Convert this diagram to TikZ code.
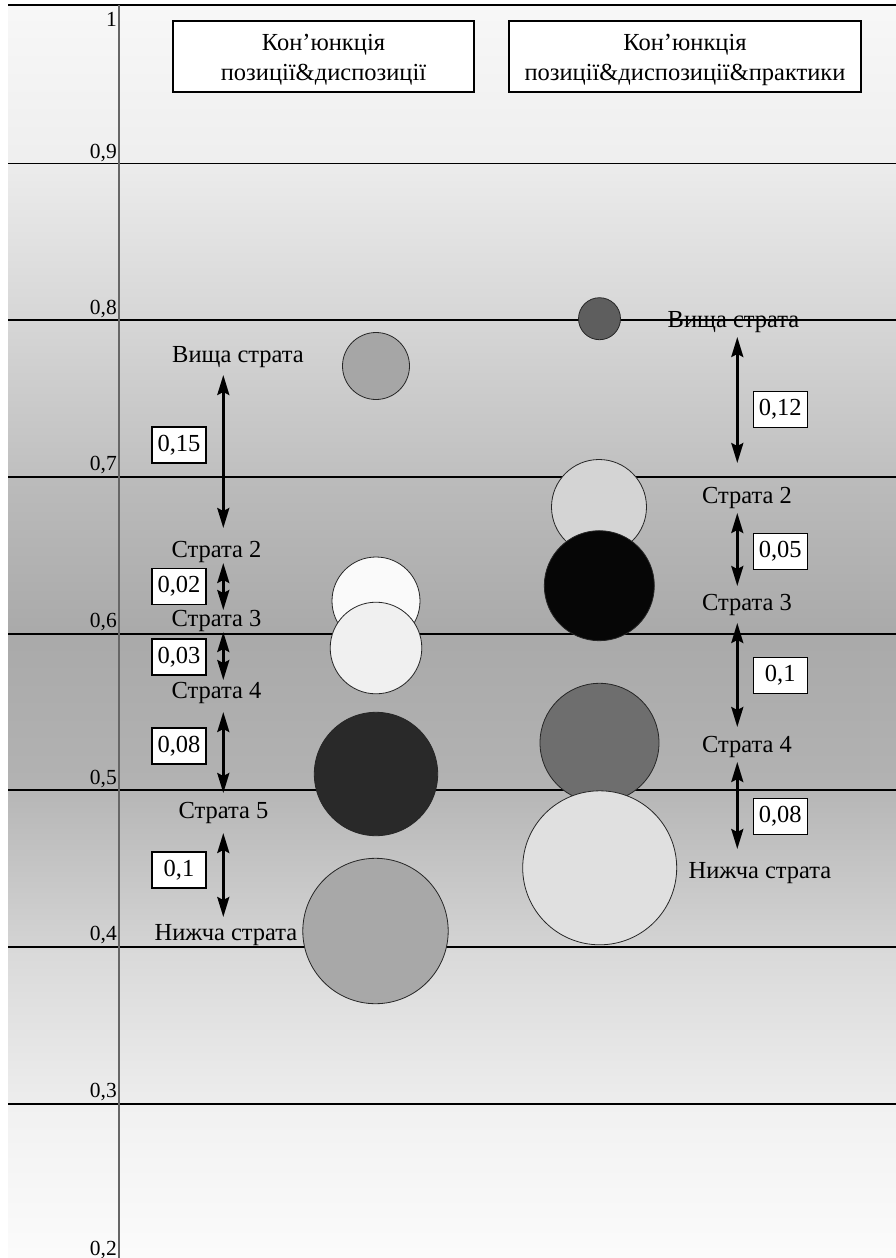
\documentclass[tikz,border=0pt]{standalone}
\usepackage{fontspec}
\setmainfont{Liberation Serif}
\usetikzlibrary{arrows.meta}
\begin{document}
\begin{tikzpicture}[x=1pt,y=-1pt,
  grid/.style={line width=1.1pt,black},
  axisline/.style={line width=1.4pt,black!60},
  ball/.style={circle,draw=black!85,line width=0.8pt,inner sep=0pt,minimum size=#1},
  lbl/.style={anchor=base,inner sep=0pt,font=\fontsize{24.5}{30}\selectfont},
  tick/.style={anchor=base east,inner sep=0pt,font=\fontsize{21.5}{25}\selectfont},
  numbox/.style={draw=black,fill=white,line width=1.2pt,minimum width=54pt,minimum height=36pt,inner sep=0pt,font=\fontsize{24.5}{30}\selectfont},
  hdr/.style={draw=black,fill=white,line width=1.4pt,minimum height=71pt,inner sep=0pt},
  htext/.style={inner sep=0pt,align=center,font=\fontsize{24.5}{30}\selectfont},
  dbl/.style={line width=2.6pt,{Stealth[length=20pt,width=12pt,inset=3pt]}-{Stealth[length=20pt,width=12pt,inset=3pt]}}
]
\useasboundingbox (0,0) rectangle (896,1258);
\fill[white] (0,0) rectangle (896,1258);
% background bands
\shade[top color={black!3},bottom color={black!6.5}] (8,5) rectangle (896,163.5);
\shade[top color={black!7.5},bottom color={black!16}] (8,163.5) rectangle (896,320);
\shade[top color={black!16},bottom color={black!25}] (8,320) rectangle (896,477);
\shade[top color={black!26.5},bottom color={black!33.5}] (8,477) rectangle (896,634);
\shade[top color={black!33.5},bottom color={black!30}] (8,634) rectangle (896,790);
\shade[top color={black!28.5},bottom color={black!17}] (8,790) rectangle (896,947);
\shade[top color={black!15},bottom color={black!7}] (8,947) rectangle (896,1104);
\shade[top color={black!5.5},bottom color={black!1.5}] (8,1104) rectangle (896,1258);
% grid lines
\draw[grid] (8,5) -- (896,5);
\foreach \yy in {163.5,320,477,634,790,947,1104}{\draw[grid] (8,\yy) -- (896,\yy);}
\draw[axisline] (119,5) -- (119,1258);
% tick labels
\node[tick] (t10) at (117,27) {1};
\node[tick] (t09) at (117,158) {0,9};
\node[tick] (t08) at (117,314) {0,8};
\node[tick] (t07) at (117,470) {0,7};
\node[tick] (t06) at (117,627) {0,6};
\node[tick] (t05) at (117,784) {0,5};
\node[tick] (t04) at (117,940) {0,4};
\node[tick] (t03) at (117,1097) {0,3};
\node[tick] (t02) at (117,1255) {0,2};
% headers
\node[hdr,minimum width=301pt] (h1) at (323.5,56.5) {};
\node[htext,yshift=-3pt] (h1t) at (h1.center) {Кон’юнкція\\позиції\&диспозиції};
\node[hdr,minimum width=352pt] (h2) at (685,56.5) {};
\node[htext,yshift=-3pt] (h2t) at (h2.center) {Кон’юнкція\\позиції\&диспозиції\&практики};
% left circles
\node[ball=67pt,fill=black!35] (cl1) at (376,366) {};
\node[ball=88pt,fill=black!2] (cl2) at (376,601) {};
\node[ball=91.6pt,fill=black!6] (cl3) at (376,648) {};
\node[ball=123.4pt,fill=black!84] (cl4) at (376,774) {};
\node[ball=145.4pt,fill=black!34] (cl5) at (375.5,931) {};
% right circles
\node[ball=42pt,fill=black!63] (cr1) at (599.5,318.7) {};
\node[ball=95pt,fill=black!17] (cr2) at (599,507) {};
\node[ball=110pt,fill=black!97.5] (cr3) at (599.3,585.7) {};
\node[ball=119pt,fill=black!57] (cr4) at (599.5,742.8) {};
\node[ball=154pt,fill=black!12] (cr5) at (599.7,867.8) {};
% left labels
\node[lbl] (ll1) at (238,362) {Вища страта};
\node[lbl] (ll2) at (216.5,557) {Страта 2};
\node[lbl] (ll3) at (216.5,626) {Страта 3};
\node[lbl] (ll4) at (216.5,698) {Страта 4};
\node[lbl] (ll5) at (223.5,818) {Страта 5};
\node[lbl] (ll6) at (226,940) {Нижча страта};
% right labels
\node[lbl] (rl1) at (733.5,327) {Вища страта};
\node[lbl] (rl2) at (747,503) {Страта 2};
\node[lbl] (rl3) at (747,610) {Страта 3};
\node[lbl] (rl4) at (747,752) {Страта 4};
\node[lbl] (rl5) at (760,878) {Нижча страта};
% arrow end points
\coordinate (la1) at (223.3,375); \coordinate (lb1) at (223.3,528);
\coordinate (la2) at (223.3,563); \coordinate (lb2) at (223.3,610);
\coordinate (la3) at (223.3,632); \coordinate (lb3) at (223.3,680);
\coordinate (la4) at (223.3,712); \coordinate (lb4) at (223.3,793);
\coordinate (la5) at (223.3,833); \coordinate (lb5) at (223.3,917);
\coordinate (ra1) at (737.3,337); \coordinate (rb1) at (737.3,463);
\coordinate (ra2) at (737.3,513); \coordinate (rb2) at (737.3,586);
\coordinate (ra3) at (737.3,623); \coordinate (rb3) at (737.3,727);
\coordinate (ra4) at (737.3,762); \coordinate (rb4) at (737.3,849);
\foreach \i in {1,...,5}{\draw[dbl] (la\i) -- (lb\i);}
\foreach \i in {1,...,4}{\draw[dbl] (ra\i) -- (rb\i);}
% value boxes
\node[numbox] (lv1) at (179,445) {0,15};
\node[numbox] (lv2) at (179,586.5) {0,02};
\node[numbox] (lv3) at (179,657) {0,03};
\node[numbox] (lv4) at (179,746) {0,08};
\node[numbox] (lv5) at (179,870) {0,1};
\node[numbox] (rv1) at (780.3,409.5) {0,12};
\node[numbox] (rv2) at (780.3,551.7) {0,05};
\node[numbox] (rv3) at (780.3,675.5) {0,1};
\node[numbox] (rv4) at (780.3,816.7) {0,08};
\end{tikzpicture}
\end{document}
